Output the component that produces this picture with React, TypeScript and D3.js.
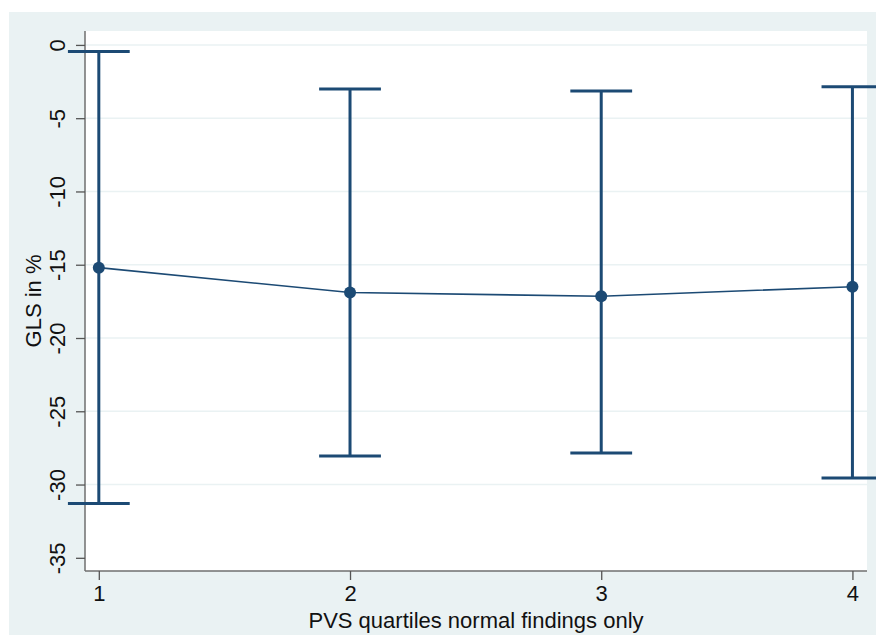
import React, { useEffect, useRef } from 'react';
import * as d3 from 'd3';

// PVS quartiles (normal findings only) with mean GLS and 95% CI
const quartiles = [1, 2, 3, 4];
const meanGLS = [-15.2, -16.9, -17.15, -16.5];
const upperCI = [-0.45, -3.0, -3.15, -2.85];
const lowerCI = [-31.3, -28.05, -27.85, -29.55];
const yTicks = [0, -5, -10, -15, -20, -25, -30, -35];

const W = 876;
const H = 635;
const NAVY = '#1c4a74';
const BG = '#eaf2f3';
const FONT = '"Liberation Sans", Arial, Helvetica, sans-serif';
const FS = '22px';

const App = () => {
  const svgRef = useRef<SVGSVGElement | null>(null);

  useEffect(() => {
    const svg = d3.select(svgRef.current);
    svg.selectAll('*').remove();

    const plot = { left: 85, right: 867, top: 31, bottom: 571 };

    const x = d3.scaleLinear().domain([0.945, 4.058]).range([plot.left, plot.right]);
    const y = d3.scaleLinear().domain([0.95, -35.9]).range([plot.top, plot.bottom]);

    // outer background
    svg.append('rect')
      .attr('x', 9).attr('y', 12)
      .attr('width', W - 9).attr('height', H - 12)
      .attr('fill', BG);

    // plot area
    svg.append('rect')
      .attr('x', plot.left).attr('y', plot.top)
      .attr('width', plot.right - plot.left).attr('height', plot.bottom - plot.top)
      .attr('fill', 'white');

    // gridlines
    svg.append('g')
      .selectAll('line')
      .data(yTicks.filter(d => d !== -35))
      .enter().append('line')
      .attr('x1', plot.left).attr('x2', plot.right)
      .attr('y1', d => y(d)).attr('y2', d => y(d))
      .attr('stroke', BG).attr('stroke-width', 1.5);

    // y axis (plain hyphen minus, like the original)
    const yAxis = d3.axisLeft(y).tickValues(yTicks).tickSize(9).tickPadding(6).tickFormat(d => String(d));
    const gy = svg.append('g').attr('transform', `translate(${plot.left},0)`).call(yAxis);
    gy.select('.domain').attr('d', `M0,${plot.top}V${plot.bottom}`).attr('stroke', '#6f6f6f').attr('stroke-width', 1.5);
    gy.selectAll('.tick line').attr('stroke', '#555').attr('stroke-width', 1.3);
    gy.selectAll('.tick text')
      .attr('transform', 'rotate(-90)')
      .attr('x', 0).attr('y', -28)
      .attr('dy', '0.35em')
      .attr('text-anchor', 'middle')
      .style('font-family', FONT).style('font-size', FS).attr('fill', '#111');

    // x axis
    const xAxis = d3.axisBottom(x).tickValues(quartiles).tickSize(9).tickPadding(5).tickFormat(d => String(d));
    const gx = svg.append('g').attr('transform', `translate(0,${plot.bottom})`).call(xAxis);
    gx.select('.domain').attr('d', `M${plot.left},0H${plot.right}`).attr('stroke', '#6f6f6f').attr('stroke-width', 1.5);
    gx.selectAll('.tick line').attr('stroke', '#555').attr('stroke-width', 1.3);
    gx.selectAll('.tick text')
      .style('font-family', FONT).style('font-size', FS).attr('fill', '#111');

    // axis titles
    svg.append('text')
      .attr('x', (plot.left + plot.right) / 2).attr('y', 628)
      .attr('text-anchor', 'middle')
      .style('font-family', FONT).style('font-size', FS).attr('fill', '#111')
      .text('PVS quartiles normal findings only');

    svg.append('text')
      .attr('transform', `translate(41,${(plot.top + plot.bottom) / 2}) rotate(-90)`)
      .attr('text-anchor', 'middle')
      .style('font-family', FONT).style('font-size', FS).attr('fill', '#111')
      .text('GLS in %');

    // clip error bars to the chart region
    svg.append('clipPath').attr('id', 'clip')
      .append('rect').attr('x', 0).attr('y', 0).attr('width', W).attr('height', H);

    const bars = svg.append('g').attr('clip-path', 'url(#clip)');
    const capHalf = 0.123;

    bars.selectAll('.ci')
      .data(quartiles)
      .enter().append('line')
      .attr('class', 'ci')
      .attr('x1', d => x(d)).attr('x2', d => x(d))
      .attr('y1', (d, i) => y(upperCI[i])).attr('y2', (d, i) => y(lowerCI[i]))
      .attr('stroke', NAVY).attr('stroke-width', 3);

    const caps = quartiles.flatMap((d, i) => [
      { q: d, v: upperCI[i] },
      { q: d, v: lowerCI[i] },
    ]);
    bars.selectAll('.cap')
      .data(caps)
      .enter().append('line')
      .attr('class', 'cap')
      .attr('x1', d => x(d.q - capHalf)).attr('x2', d => x(d.q + capHalf))
      .attr('y1', d => y(d.v)).attr('y2', d => y(d.v))
      .attr('stroke', NAVY).attr('stroke-width', 3);

    // connecting line
    const line = d3.line<number>()
      .x((d, i) => x(quartiles[i]))
      .y(d => y(d));
    svg.append('path')
      .datum(meanGLS)
      .attr('d', line)
      .attr('fill', 'none')
      .attr('stroke', NAVY)
      .attr('stroke-width', 1.6);

    // points
    svg.selectAll('.pt')
      .data(meanGLS)
      .enter().append('circle')
      .attr('class', 'pt')
      .attr('cx', (d, i) => x(quartiles[i]))
      .attr('cy', d => y(d))
      .attr('r', 6)
      .attr('fill', NAVY);
  }, []);

  return (
    <svg
      ref={svgRef}
      width={W}
      height={H}
      style={{ position: 'absolute', left: 0, top: 0, background: 'white' }}
    />
  );
};

export default App;
